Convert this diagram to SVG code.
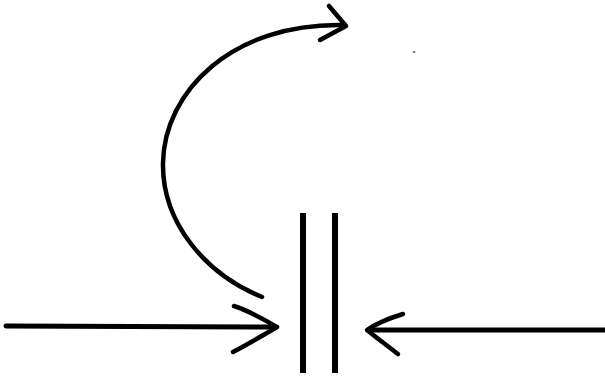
<svg xmlns="http://www.w3.org/2000/svg" width="605" height="379" viewBox="0 0 605 379">
<style>
.ln{fill:none;stroke:#000;stroke-linecap:round;stroke-linejoin:round}
.shaft{stroke-width:5}
.head{stroke-width:4.5}
.plate{stroke-width:6;stroke-linecap:butt}
</style>
<rect width="605" height="379" fill="#fff"/>
<g id="capacitor">
<line class="ln plate" x1="303" y1="213" x2="303" y2="373"/>
<line class="ln plate" x1="335" y1="213" x2="335" y2="373"/>
</g>
<g id="connectors">
<path class="ln head" d="M262,297 C205,274 162,222 163,163 C164,92 232,22 345,25"/>
<path class="ln head" d="M329,6 L346,26 L320,40"/>
<line class="ln shaft" x1="6" y1="326" x2="276" y2="327"/>
<path class="ln head" d="M234,306 C252,312 265,320 277,327 C262,336 248,344 233,352"/>
<line class="ln shaft" x1="605" y1="330" x2="368" y2="330"/>
<path class="ln head" d="M403,314 C390,318 377,323 367,330 C378,339 389,347 398,354"/>
</g>
<ellipse cx="414" cy="52" rx="1.5" ry="1" fill="#777"/>
</svg>
